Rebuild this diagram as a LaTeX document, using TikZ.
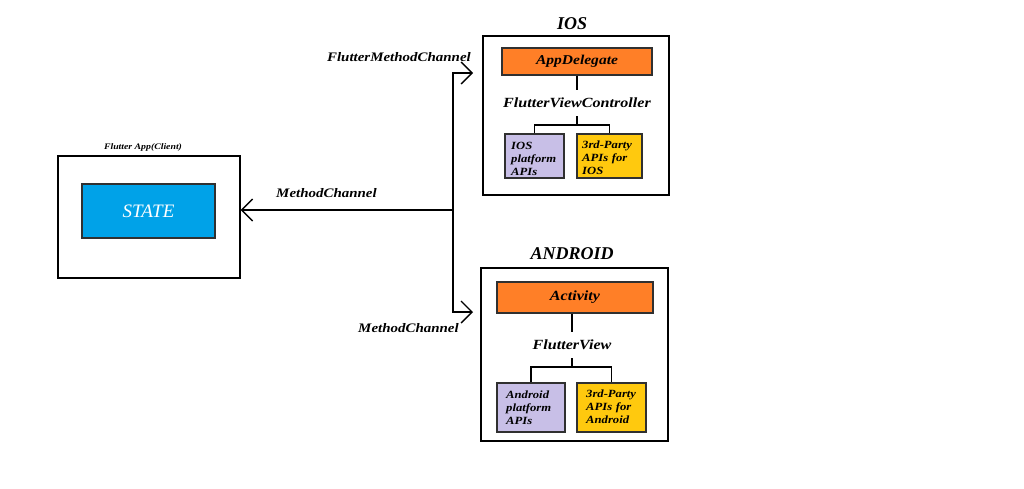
\documentclass[tikz,border=0pt]{standalone}
\usepackage{fontspec}
\setmainfont{Liberation Serif}
\newfontfamily\widefont{Liberation Serif}[FakeStretch=1.15]
\usetikzlibrary{arrows.meta}
\definecolor{stateblue}{HTML}{00A2E8}
\definecolor{boxorange}{HTML}{FF7F27}
\definecolor{boxlav}{HTML}{C8BFE7}
\definecolor{boxyellow}{HTML}{FFC90E}
\definecolor{edgegray}{HTML}{303030}
\tikzset{
  frame/.style={draw=black, line width=1.4pt, rectangle, inner sep=0pt},
  colbox/.style={draw=edgegray, line width=1.4pt, rectangle, inner sep=0pt},
  lbl/.style={inner sep=0pt, font=\widefont\bfseries\itshape\fontsize{13}{15}\selectfont},
  midlbl/.style={inner sep=0pt, minimum height=26pt, font=\widefont\bfseries\itshape\fontsize{14}{16}\selectfont},
  ttl/.style={inner sep=0pt, font=\bfseries\itshape\fontsize{18}{20}\selectfont},
  smalltxt/.style={align=left, font=\widefont\bfseries\itshape\fontsize{11}{13}\selectfont, text width=#1, anchor=north west, inner sep=0pt},
  conn/.style={line width=1.4pt, black},
  tipb/.tip={Straight Barb[length=11pt,width=22pt]},
  arr/.style={conn, tipb-},
  biarr/.style={conn, tipb-tipb}
}
\begin{document}
\begin{tikzpicture}[x=1pt,y=-1pt]
\useasboundingbox[fill=white] (0,0) rectangle (1024,488);
% Flutter app
\node[frame, minimum width=182pt, minimum height=122pt] (app) at (149,217) {};
\node[inner sep=0pt, font=\widefont\bfseries\itshape\fontsize{8.5}{10}\selectfont] (apptitle) at (143,147) {Flutter App(Client)};
\node[colbox, fill=stateblue, minimum width=133pt, minimum height=54pt, text=white, font=\itshape\fontsize{19}{21}\selectfont] (state) at (148.5,211) {STATE};
% junction
\coordinate (j) at (453,210);
\coordinate (et) at (473,73);
\coordinate (eb) at (473,312);
\draw[arr] (j -| app.east) -- (j);
\draw[biarr] (et) -| (j) |- (eb);
\node[lbl, anchor=east] (fmc) at (471,57) {FlutterMethodChannel};
\node[lbl] (mc1) at (326.5,193) {MethodChannel};
\node[lbl] (mc2) at (408.5,328) {MethodChannel};
% IOS
\node[ttl] (iostitle) at (572,24) {IOS};
\node[frame, minimum width=186pt, minimum height=159pt] (ios) at (576,115.5) {};
\node[colbox, fill=boxorange, minimum width=150pt, minimum height=27pt, font=\widefont\bfseries\itshape\fontsize{13.5}{16}\selectfont] (appd) at (577,61.5) {AppDelegate};
\node[midlbl] (fvc) at (577,103) {FlutterViewController};
\coordinate (iosbar) at (577,125);
\node[colbox, fill=boxlav, minimum width=59pt, minimum height=44pt] (iosplat) at (534.5,156) {};
\node[colbox, fill=boxyellow, minimum width=65pt, minimum height=44pt] (ios3) at (609.5,156) {};
\node[smalltxt=55pt] (iosplatt) at (511,142) {IOS\\platform\\APIs};
\node[smalltxt=60pt] (ios3t) at (582,141) {3rd-Party\\APIs for\\IOS};
\draw[conn] (appd) -- (fvc);
\draw[conn] (fvc) -- (iosbar);
\draw[conn] (iosplat.north) |- (iosbar) -| (ios3.north);
% ANDROID
\node[ttl] (andtitle) at (572,254) {ANDROID};
\node[frame, minimum width=187pt, minimum height=173pt] (and) at (574.5,354.5) {};
\node[colbox, fill=boxorange, minimum width=156pt, minimum height=31pt, font=\widefont\bfseries\itshape\fontsize{14}{16}\selectfont] (act) at (575,297.5) {Activity};
\node[midlbl] (fv) at (572,345) {FlutterView};
\coordinate (andbar) at (572,367);
\node[colbox, fill=boxlav, minimum width=68pt, minimum height=49pt] (andplat) at (531,407.5) {};
\node[colbox, fill=boxyellow, minimum width=69pt, minimum height=49pt] (and3) at (611.5,407.5) {};
\node[smalltxt=62pt] (andplatt) at (506,391) {Android\\platform\\APIs};
\node[smalltxt=62pt] (and3t) at (586,390) {3rd-Party\\APIs for\\Android};
\draw[conn] (act.south -| fv) -- (fv);
\draw[conn] (fv) -- (andbar);
\draw[conn] (andplat.north) |- (andbar) -| (and3.north);
\end{tikzpicture}
\end{document}
